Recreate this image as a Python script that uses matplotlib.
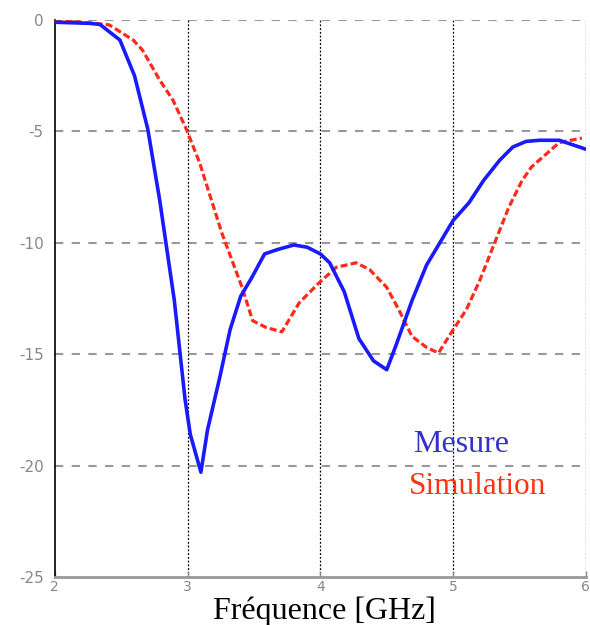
import matplotlib.pyplot as plt

# Mesure (blue)
f_mes = [2.0, 2.26, 2.34, 2.49, 2.6, 2.7, 2.79, 2.9, 2.98, 3.02, 3.1, 3.15, 3.24, 3.32, 3.4,
         3.48, 3.58, 3.68, 3.8, 3.9, 4.0, 4.07, 4.18, 4.29, 4.4, 4.5, 4.57, 4.69, 4.8, 4.9,
         5.0, 5.12, 5.23, 5.35, 5.45, 5.55, 5.65, 5.8, 6.0]
s_mes = [-0.1, -0.15, -0.2, -0.9, -2.5, -4.9, -8.1, -12.6, -17.0, -18.6, -20.3, -18.4, -16.1,
         -13.9, -12.4, -11.6, -10.5, -10.3, -10.1, -10.2, -10.5, -10.9, -12.2, -14.3, -15.3,
         -15.7, -14.6, -12.6, -11.0, -10.0, -9.0, -8.2, -7.2, -6.3, -5.7, -5.45, -5.4, -5.4, -5.8]

# Simulation (red)
f_sim = [2.0, 2.26, 2.41, 2.59, 2.66, 2.79, 2.89, 2.99, 3.09, 3.18, 3.26, 3.41, 3.49, 3.59,
         3.71, 3.84, 3.99, 4.12, 4.27, 4.37, 4.5, 4.59, 4.69, 4.8, 4.89, 4.99, 5.1, 5.2,
         5.32, 5.42, 5.52, 5.59, 5.8, 5.97]
s_sim = [0.0, -0.13, -0.22, -0.9, -1.35, -2.7, -3.6, -4.9, -6.4, -8.1, -9.6, -12.0, -13.5,
         -13.8, -14.0, -12.7, -11.8, -11.1, -10.9, -11.2, -12.0, -13.0, -14.2, -14.7, -14.95,
         -14.0, -13.0, -11.7, -9.9, -8.4, -7.2, -6.6, -5.5, -5.3]

xticks = [2, 3, 4, 5, 6]
yticks = [0, -5, -10, -15, -20, -25]

fig = plt.figure(figsize=(5.9, 6.25), dpi=100)
ax = fig.add_axes([0.093, 0.077, 0.9, 0.891])

# grid
for y in yticks[:-1]:
    ax.axhline(y, color='#999999', lw=1.5, ls=(0, (4, 4)), zorder=1)
for x in xticks[1:]:
    ax.axvline(x, color='black', lw=0.9, ls=(0, (1.5, 1.5)), zorder=1)

ax.plot(f_sim, s_sim, color='#ff2a1a', lw=2.3, ls=(0, (2.2, 1.0)), zorder=3)
ax.plot(f_mes, s_mes, color='#1a1aff', lw=2.6, zorder=4)

ax.set_xlim(2, 6)
ax.set_ylim(-25, 0)
ax.set_xticks(xticks)
ax.set_yticks(yticks)
ax.set_xticklabels([str(t) for t in xticks])
ax.set_yticklabels([str(t) for t in yticks])
ax.tick_params(colors='#888888', labelsize=11, length=4, width=1)
ax.tick_params(axis='x', direction='in', pad=2, labelsize=10)
ax.tick_params(axis='y', length=0, pad=8)

for s in ['top', 'right']:
    ax.spines[s].set_visible(False)
ax.spines['left'].set_color('black')
ax.spines['left'].set_linewidth(1.2)
ax.spines['bottom'].set_color('#999999')
ax.spines['bottom'].set_linewidth(2)

fig.text(0.55, 0.022, 'Fréquence [GHz]', fontsize=23, family='Liberation Serif',
         ha='center', va='center')

ax.text(4.7, -19.4, 'Mesure', color='#3333cc', fontsize=23, family='Liberation Serif')
ax.text(4.67, -21.3, 'Simulation', color='#ff3311', fontsize=22.5, family='Liberation Serif')

fig.savefig('out.png')
